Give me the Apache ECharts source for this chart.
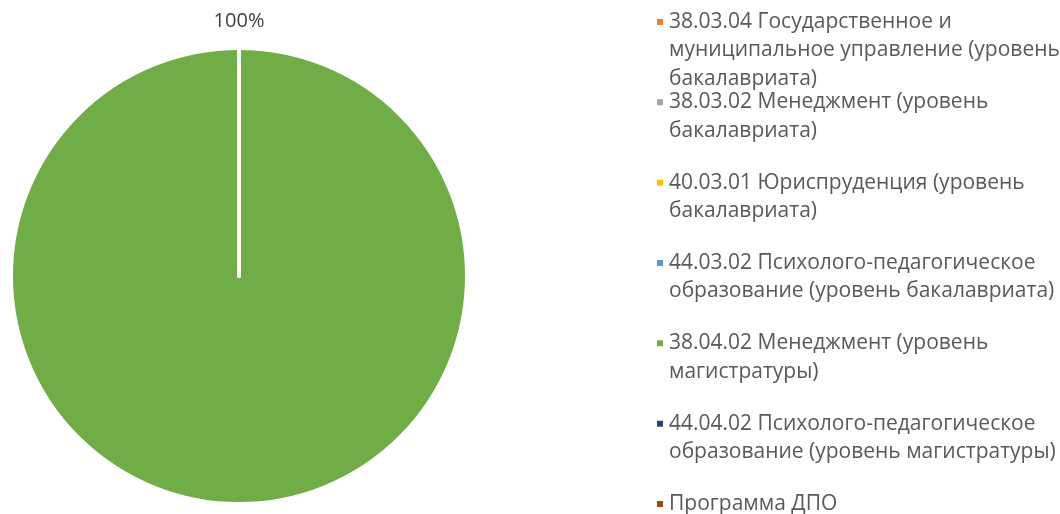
<!DOCTYPE html>
<html>
<head>
<meta charset="utf-8">
<script src="https://cdn.jsdelivr.net/npm/echarts@6/dist/echarts.min.js"></script>
<style>
    html, body { margin: 0; padding: 0; background: #fff; }
    #chart { width: 1060px; height: 514px; }
</style>
</head>
<body>
<div id="chart"></div>
<script>
    // направления подготовки
    var categories = [
        '38.03.04 Государственное и муниципальное управление (уровень бакалавриата)',
        '38.03.02 Менеджмент (уровень бакалавриата)',
        '40.03.01 Юриспруденция (уровень бакалавриата)',
        '44.03.02 Психолого-педагогическое образование (уровень бакалавриата)',
        '38.04.02 Менеджмент (уровень магистратуры)',
        '44.04.02 Психолого-педагогическое образование (уровень магистратуры)',
        'Программа ДПО'
    ];
    var values = [0, 0, 0, 0, 100, 0, 0];
    var colors = ['#ED7D31', '#A5A5A5', '#FFC000', '#5B9BD5', '#70AD47', '#264478', '#9E480E'];

    var legendFont = '21px "Open Sans"';
    var wrapWidth = 395;
    var maxLines = 3;

    // перенос по словам, как в Excel
    var ctx = document.createElement('canvas').getContext('2d');
    ctx.font = legendFont;
    function wrap(text) {
        var words = text.split(' ');
        var lines = [];
        var cur = '';
        words.forEach(function (w) {
            var t = cur ? cur + ' ' + w : w;
            if (cur && ctx.measureText(t).width > wrapWidth) {
                lines.push(cur);
                cur = w;
            } else {
                cur = t;
            }
        });
        lines.push(cur);
        return lines;
    }

    var myChart = echarts.init(document.getElementById('chart'));
    var option;
    option = {
        color: colors,
        animation: false,
        legend: {
            orient: 'vertical',
            left: 655,
            top: 22 - 2.5 * 28.5,
            height: 1200,
            padding: 0,
            icon: 'rect',
            itemWidth: 8,
            itemHeight: 8,
            itemGap: 80.33 - 5 * 28.5,
            selectedMode: false,
            data: categories,
            // первая строка текста на уровне значка
            formatter: function (name) {
                var lines = wrap(name);
                var pad = maxLines - lines.length;
                return '\n\n' + lines.join('\n') + new Array(pad + 1).join('\n ');
            },
            textStyle: {
                fontFamily: 'Open Sans',
                fontSize: 21,
                color: '#595959',
                lineHeight: 28.5
            }
        },
        series: [
            {
                type: 'pie',
                center: [239, 276],
                radius: 228,
                startAngle: 90,
                clockwise: true,
                itemStyle: {
                    borderColor: '#fff',
                    borderWidth: 4
                },
                label: {
                    show: true,
                    position: 'outside',
                    fontFamily: 'Open Sans',
                    fontSize: 20,
                    color: '#404040',
                    formatter: function (p) {
                        return p.value > 0 ? Math.round(p.percent) + '%' : '';
                    }
                },
                labelLine: { show: false },
                labelLayout: function (p) {
                    return {
                        x: p.rect.x + p.rect.width / 2,
                        y: p.rect.y - 25,
                        align: 'center',
                        verticalAlign: 'middle'
                    };
                },
                emphasis: { disabled: true },
                data: categories.map(function (name, i) {
                    return { name: name, value: values[i] };
                })
            }
        ]
    };

    option && myChart.setOption(option);
</script>
</body>
</html>
